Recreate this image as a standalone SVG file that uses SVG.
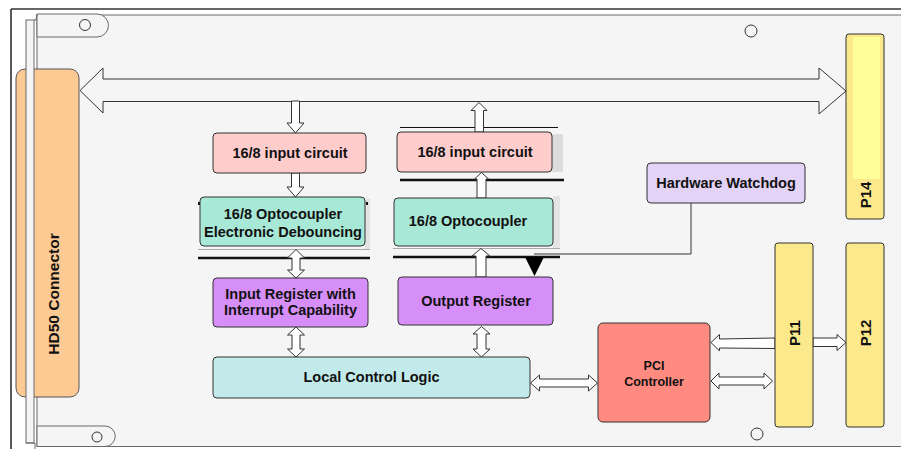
<svg xmlns="http://www.w3.org/2000/svg" width="901" height="449" viewBox="0 0 901 449">
<style>
.bd{fill:#f5f5f5;stroke:#6a6a6a;stroke-width:1}
.bx{stroke:#333;stroke-width:1}
.t{font-family:"Liberation Sans",Arial,sans-serif;font-weight:bold;font-size:14.5px;fill:#111;text-anchor:middle}
.ar{fill:#fff;stroke:#333;stroke-width:1;stroke-linejoin:miter}
.hole{fill:none;stroke:#333;stroke-width:1}
</style>
<rect x="0" y="0" width="901" height="449" fill="#fff"/>
<g id="board">
<line x1="11" y1="9" x2="11" y2="449" stroke="#222" stroke-width="1.5"/>
<line x1="11" y1="9" x2="901" y2="9" stroke="#333" stroke-width="1.5"/>
<rect class="bd" x="37" y="15" width="880" height="431.5"/>
</g>
<g id="hd50">
<rect x="16" y="69" width="63" height="328" rx="9" fill="#fdca94" stroke="#555"/>
<text class="t" style="font-size:15.5px" transform="translate(53,294) rotate(-90)" dy="5.5">HD50 Connector</text>
</g>
<g id="bracket">
<rect class="bd" x="26" y="20" width="8" height="423"/>
<path class="bd" d="M37 37 L37 14 L97 14 A11.5 11.5 0 0 1 97 37 Z"/>
<path d="M34 20 L36 20 L37 14" fill="none" stroke="#6a6a6a"/>
<path class="bd" d="M37 426 L105 426 A10.25 10.25 0 0 1 105 446.5 L37 446.5 Z"/>
<path d="M26 443 L35 443 L35 449" fill="none" stroke="#6a6a6a"/>
<circle class="hole" cx="85" cy="25" r="5.5"/>
<circle class="hole" cx="97" cy="437" r="5"/>
<circle class="hole" cx="751" cy="31" r="6"/>
<circle class="hole" cx="757" cy="434" r="6"/>
</g>
<g id="artifacts">
<rect x="365" y="199" width="5" height="50" fill="#e2e2e2"/>
<line x1="198" y1="249.5" x2="370" y2="249.5" stroke="#aaa" stroke-width="1"/>
<line x1="198" y1="258" x2="370" y2="258" stroke="#111" stroke-width="2.5"/>
<rect x="198" y="202" width="2" height="3" fill="#111"/>
<rect x="366" y="202" width="2" height="3" fill="#111"/>
<line x1="400" y1="127.5" x2="558" y2="127.5" stroke="#111" stroke-width="1"/>
<rect x="552" y="134" width="11" height="38" fill="#dcdcdc"/>
<line x1="400" y1="180" x2="564" y2="180" stroke="#111" stroke-width="2.5"/>
<rect x="553" y="196" width="7" height="52" fill="#e4e4e4"/>
<line x1="393" y1="248.5" x2="560" y2="248.5" stroke="#aaa" stroke-width="1"/>
<line x1="393" y1="257" x2="560" y2="257" stroke="#111" stroke-width="2.5"/>
</g>
<g id="connectors">
<polygon class="ar" style="fill:#f5f5f5" points="80,90.5 103,68 103,79 819,79 819,68 846,91 819,114 819,101.5 103,101.5 103,113"/>
<polygon class="ar" points="291.5,101 299.5,101 299.5,123 304,123 295.5,133 287,123 291.5,123"/>
<polygon class="ar" points="291.5,173 299.5,173 299.5,187 304,187 295.5,197 287,187 291.5,187"/>
<polygon class="ar" points="296,249.5 304.5,258 300,258 300,270 304.5,270 296,278 287.5,270 292,270 292,258 287.5,258"/>
<polygon class="ar" points="296,327 304.5,335 300,335 300,349 304.5,349 296,357 287.5,349 292,349 292,335 287.5,335"/>
<polygon class="ar" points="479,102.5 487,110.5 483.5,110.5 483.5,132 475,132 475,110.5 471,110.5"/>
<polygon class="ar" points="481.5,172.5 488.5,179 486,179 486,198 477,198 477,179 474.5,179"/>
<polygon class="ar" points="481,248.5 490,256 486,256 486,277 476,277 476,256 472,256"/>
<polygon class="ar" points="481.5,326.5 490,334 486,334 486,349 490,349 481.5,357 473,349 477,349 477,334 473,334"/>
<polygon class="ar" points="530.5,383 539.5,375 539.5,379 588.5,379 588.5,375 597.5,383 588.5,391 588.5,387 539.5,387 539.5,391"/>
<polygon class="ar" points="711,381 719,373 719,377 764,377 764,373 772.5,381 764,389 764,385 719,385 719,389"/>
<polygon class="ar" points="711,342.5 719.5,334.5 719.5,339 775,338 775,348.5 719.5,348 719.5,351"/>
<polygon class="ar" points="813,338 837,338 837,334.5 846,342.5 837,350.5 837,346.5 813,346.5"/>
<path d="M691 203 L691 254 L534 254" fill="none" stroke="#333" stroke-width="1"/>
<polygon points="525,257 544,257 534.5,276" fill="#000"/>
</g>
<g id="in1">
<rect class="bx" x="213" y="133" width="153" height="40" rx="4" fill="#ffcccc"/>
<text class="t" x="290" y="157.5">16/8 input circuit</text>
</g>
<g id="opto1">
<rect class="bx" x="200" y="197" width="165" height="49" rx="4" fill="#a8e8d6"/>
<text class="t" x="283" y="218.5">16/8 Optocoupler</text>
<text class="t" x="283" y="237">Electronic Debouncing</text>
</g>
<g id="inreg">
<rect class="bx" x="213" y="278" width="155" height="49" rx="4" fill="#d68ef8"/>
<text class="t" x="290.5" y="298.5">Input Register with</text>
<text class="t" x="290.5" y="315">Interrupt Capability</text>
</g>
<g id="lcl">
<rect class="bx" x="213" y="357" width="317" height="41" rx="4" fill="#c2eaea"/>
<text class="t" x="371.5" y="382">Local Control Logic</text>
</g>
<g id="in2">
<rect class="bx" x="397" y="132" width="155" height="40" rx="4" fill="#ffcccc"/>
<text class="t" x="475" y="156.5">16/8 input circuit</text>
</g>
<g id="opto2">
<rect class="bx" x="394" y="198" width="159" height="48" rx="4" fill="#a8e8d6"/>
<text class="t" x="468" y="226">16/8 Optocoupler</text>
</g>
<g id="outreg">
<rect class="bx" x="398" y="277" width="155" height="48" rx="4" fill="#d68ef8"/>
<text class="t" x="476" y="305.5">Output Register</text>
</g>
<g id="watchdog">
<rect class="bx" x="647" y="163" width="158" height="40" rx="4" fill="#e2d3f7"/>
<text class="t" x="726" y="187.5">Hardware Watchdog</text>
</g>
<g id="pci">
<rect class="bx" x="598" y="323" width="112" height="99" rx="5" fill="#ff8a80"/>
<text class="t" style="font-size:12.5px" x="654" y="370">PCI</text>
<text class="t" style="font-size:12.5px" x="654" y="386">Controller</text>
</g>
<g id="p14">
<rect class="bx" x="846" y="34" width="38" height="185" rx="3" fill="#fbe98b"/>
<rect x="853" y="37" width="27" height="142" fill="#ffff99"/>
<text class="t" style="font-size:15px" transform="translate(865,195) rotate(-90)" dy="5.5">P14</text>
</g>
<g id="p11">
<rect class="bx" x="775" y="243" width="38" height="184" rx="3" fill="#fbe98b"/>
<text class="t" style="font-size:15px" transform="translate(794,333) rotate(-90)" dy="5.5">P11</text>
</g>
<g id="p12">
<rect class="bx" x="846" y="243" width="38" height="184" rx="3" fill="#fbe98b"/>
<text class="t" style="font-size:15px" transform="translate(865,333) rotate(-90)" dy="5.5">P12</text>
</g>
</svg>
